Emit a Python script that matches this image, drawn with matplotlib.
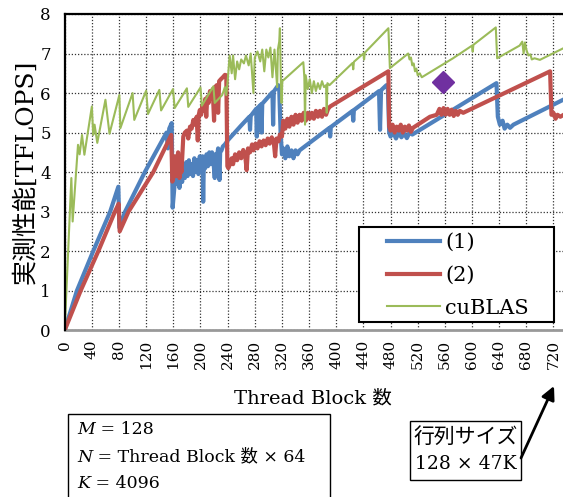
import numpy as np
import matplotlib
matplotlib.use("Agg")
from matplotlib import pyplot as plt
from matplotlib.patches import Rectangle

## DATA

# (1): thread block count vs TFLOPS
x1 = [0, 18, 42, 67, 79, 80.5, 89, 118, 150, 152, 154, 157.6,
      159, 161, 163, 165, 167, 169, 171, 173, 175, 177, 179, 181, 183, 185,
      187, 189, 191, 193, 195, 197, 199, 201, 203, 204, 205, 207, 209, 211,
      213, 215, 217, 219, 221, 222, 224, 226, 228, 229, 231, 233, 236, 240,
      260, 272, 273, 274, 282, 283, 284, 289, 290, 291, 306, 307, 308, 314.6,
      316, 318, 320, 322, 325, 328, 331, 334, 337, 340, 343, 346,
      390, 391, 392, 424, 425, 426, 463, 464.5, 466, 474, 476,
      478, 480, 484, 488, 492, 496, 500, 504, 508, 512,
      636, 638, 641, 645, 648, 652, 656, 661, 740]
y1 = [0, 1, 2, 3, 3.63, 2.6, 3.0, 4.0, 5.0, 4.6, 5.1, 5.24,
      3.1, 3.5, 3.95, 3.7, 4.05, 3.6, 4.0, 3.75, 4.15, 3.85, 4.25, 3.9, 4.3, 3.95,
      4.2, 3.9, 4.35, 4.0, 4.3, 3.95, 4.4, 4.05, 4.4, 3.25, 4.3, 4.1, 4.45, 4.15,
      4.5, 4.2, 4.5, 4.3, 3.85, 4.45, 4.35, 4.6, 3.8, 4.5, 4.55, 4.65, 4.7, 4.8,
      5.18, 5.4, 5.07, 5.42, 5.6, 4.9, 5.62, 5.71, 5.0, 5.73, 6.02, 5.2, 6.04, 6.2,
      6.1, 5.0, 4.45, 4.6, 4.35, 4.65, 4.4, 4.55, 4.35, 4.55, 4.45, 4.55,
      5.12, 4.9, 5.14, 5.55, 5.3, 5.57, 6.05, 5.07, 6.07, 6.2, 6.15,
      5.0, 4.9, 5.0, 4.85, 5.0, 4.88, 4.98, 4.86, 5.0, 4.95,
      6.25, 5.4, 5.2, 5.3, 5.1, 5.2, 5.12, 5.2, 5.88]

# (2)
x2 = [0, 23.5, 49.5, 74, 79.5, 81, 94, 130.5, 157, 158.5,
      160, 162, 164, 165, 167, 169, 170, 172, 174.7, 177, 180, 182, 184.6,
      187, 189.5, 191, 194.4, 196, 197.5, 199, 201, 203, 205, 207, 208.5,
      210, 212, 214, 216, 218, 220, 221.5, 224, 226, 227.5, 230, 233, 236,
      238, 239.6,
      241, 243.5, 246, 248, 251, 254, 257, 260, 263, 266, 268, 270, 273,
      276, 278, 281, 284, 287, 290, 293, 296, 299, 302, 305, 308, 310, 312,
      315, 317, 320,
      322, 325, 328, 331, 334, 337, 340, 343, 346, 349, 352, 355, 358, 361,
      364, 367, 370, 373, 376, 379, 382, 385, 388, 391, 476.7,
      478, 480, 483, 486, 489, 492, 495, 498, 501, 504, 507, 510, 513,
      538, 548, 552, 555, 558, 561, 564, 567, 570, 573, 576, 579, 582, 587,
      715, 717, 720, 723, 726, 730, 740]
y2 = [0, 1, 2, 3, 3.2, 2.5, 3.0, 4.0, 4.94, 3.76,
      3.85, 4.4, 3.9, 4.15, 4.5, 3.85, 4.3, 4.0, 4.9, 5.0, 5.05, 4.85, 5.15,
      5.1, 5.32, 5.2, 5.4, 4.8, 5.45, 5.57, 5.45, 5.7, 5.55, 5.85, 5.4,
      5.9, 5.75, 6.05, 5.85, 6.1, 5.3, 6.15, 6.2, 5.5, 6.3, 6.35, 6.4, 6.46,
      6.45, 4.15,
      4.1, 4.2, 4.35, 4.2, 4.45, 4.3, 4.5, 4.35, 4.56, 4.4, 4.05, 4.6, 4.5,
      4.7, 4.55, 4.72, 4.6, 4.78, 4.65, 4.8, 4.68, 4.85, 4.72, 4.88, 4.75, 4.4, 4.85,
      4.78, 4.95, 4.9,
      5.3, 5.1, 5.35, 5.15, 5.4, 5.2, 5.45, 5.25, 5.45, 5.3, 5.5, 5.3, 5.5, 5.35,
      5.5, 5.35, 5.55, 5.4, 5.55, 5.4, 5.6, 5.45, 5.6, 5.66, 6.55,
      5.15, 5.05, 5.2, 5.0, 5.15, 5.05, 5.2, 5.0, 5.15, 5.05, 5.18, 5.02, 5.12,
      5.4, 5.45, 5.6, 5.45, 5.62, 5.45, 5.6, 5.45, 5.58, 5.42, 5.55, 5.45, 5.55, 5.5,
      6.55, 5.45, 5.5, 5.35, 5.45, 5.4, 5.5]

# cuBLAS
x3 = [0, 9.8, 11.7, 19.6, 22, 25.5, 29, 40, 42, 44, 48, 60, 66, 80.5, 82,
      100, 102.5, 120, 122.7, 139.4, 142, 159.5, 162, 180, 182, 200, 202,
      219, 221, 232, 236, 238,
      240, 243, 246, 248, 251, 254, 257, 260, 264, 267, 271,
      274, 278, 280, 284, 288, 291, 294, 297, 300,
      303, 306, 309, 313, 314, 316, 317, 318.5, 319.5, 320.5,
      351.5, 353, 354, 355, 358, 361, 364, 367, 370, 373, 376, 379, 382, 385,
      386, 387, 390, 424, 425, 426, 440, 441, 442, 476.8,
      479, 506, 508, 510, 512, 514, 516, 518, 520, 523, 526, 528,
      572, 600, 601, 602, 635, 637, 670, 674, 676, 678, 680, 683, 686, 688,
      692, 700, 740]
y3 = [0, 3.85, 2.75, 4.69, 4.45, 4.94, 4.44, 5.66, 4.94, 5.2, 4.74, 5.83, 4.97, 5.95, 5.11,
      6.0, 5.32, 6.06, 5.47, 6.08, 5.56, 6.1, 5.62, 6.12, 5.65, 6.14, 5.68,
      6.17, 5.75, 5.95, 6.15, 5.95,
      6.3, 6.95, 6.5, 6.95, 6.35, 6.8, 6.6, 6.85, 6.75, 6.95, 6.7,
      7.0, 6.0, 6.9, 7.05, 6.8, 7.1, 6.55, 7.1, 6.9,
      7.15, 6.4, 7.1, 6.15, 7.1, 7.3, 7.64, 6.25, 5.75, 6.3,
      6.78, 6.4, 5.2, 6.45, 6.1, 6.35, 6.0, 6.3, 6.05, 6.25, 6.1, 6.3, 6.15, 6.2,
      5.5, 6.25, 6.2, 6.76, 6.6, 6.79, 7.0, 6.85, 7.02, 7.64,
      6.63, 7.0, 6.85, 6.9, 6.7, 6.75, 6.55, 6.62, 6.45, 6.5, 6.4, 6.42,
      6.88, 7.2, 7.05, 7.22, 7.66, 6.88, 7.2, 7.3, 7.0, 7.28, 7.1, 6.95, 6.98, 6.85,
      6.88, 6.84, 7.18]

# 行列サイズ 128 x 47K point
mark_x = [557]
mark_y = [6.27]

xticks = list(range(0, 721, 40))
yticks = list(range(0, 9))

serif = ['DejaVu Serif', 'Noto Sans CJK JP']
plt.rcParams['font.family'] = serif

W, H = 563, 497
fig = plt.figure(figsize=(W / 100, H / 100), dpi=100)


def fx(px):
    return px / W


def fy(py):
    return 1 - py / H


ax = fig.add_axes([fx(64.7), fy(330.2), fx(563 - 64.7), 316.2 / H])

ax.plot(x1, y1, color='#4F81BD', lw=3, label='(1)', zorder=3)
ax.plot(x2, y2, color='#C0504D', lw=3, label='(2)', zorder=3)
ax.plot(x3, y3, color='#9BBB59', lw=1.5, label='cuBLAS', zorder=3)
ax.plot(mark_x, mark_y, 'D', color='#7030A0', ms=11, zorder=4)

ax.set_xlim(0, 734)
ax.set_ylim(0, 8)
ax.set_xticks(xticks)
ax.set_xticklabels([str(t) for t in xticks], rotation=90)
ax.set_yticks(yticks)
ax.tick_params(axis='x', length=0, pad=7, labelsize=11)
ax.tick_params(axis='y', length=0, pad=10, labelsize=12)
ax.grid(True, color='#333333', linestyle=(0, (1, 1.5)), lw=0.9)

ax.spines['right'].set_visible(False)
ax.spines['left'].set_linewidth(1.6)
ax.spines['top'].set_linewidth(1.6)
ax.spines['bottom'].set_color('#999999')
ax.spines['bottom'].set_linewidth(2)
ax.spines['left'].set_zorder(5)

# legend with a separate frame
ax.add_patch(Rectangle((0.591, 0.027), 0.391, 0.30, transform=ax.transAxes,
                       facecolor='white', edgecolor='black', lw=1.5, zorder=5))
leg = ax.legend(loc='upper left', bbox_to_anchor=(0.646, 0.307), frameon=False,
                fontsize=15, handlelength=2.55, handletextpad=0.25,
                labelspacing=0.66, borderpad=0, borderaxespad=0)
leg.set_zorder(6)

ax.set_ylabel('実測性能[TFLOPS]', fontsize=18, labelpad=2)
fig.text(fx(313), fy(398), 'Thread Block 数', fontsize=14, ha='center', va='center')

# parameter box
fig.patches.append(Rectangle((fx(68), fy(520)), fx(330 - 68), (520 - 414) / H,
                             transform=fig.transFigure, facecolor='none',
                             edgecolor='black', lw=1, clip_on=False))
renderer = fig.canvas.get_renderer()
for py, var, rest in [(430, 'M', ' = 128'), (457, 'N', ' = Thread Block 数 × 64'),
                      (484, 'K', ' = 4096')]:
    t = fig.text(fx(77), fy(py), var, fontsize=12.5, style='italic', va='center')
    w = t.get_window_extent(renderer).width / W
    fig.text(fx(77) + w, fy(py), rest, fontsize=12.5, va='center')

# matrix size note
fig.patches.append(Rectangle((fx(410), fy(480)), fx(521 - 410), (480 - 421) / H,
                             transform=fig.transFigure, facecolor='none',
                             edgecolor='black', lw=1))
fig.text(fx(465.5), fy(437), '行列サイズ', fontsize=15, ha='center', va='center')
fig.text(fx(465.5), fy(464), '128 × 47K', fontsize=13.5, ha='center', va='center')
ax.annotate('', xy=(fx(554), fy(386)), xytext=(fx(521), fy(458)),
            xycoords='figure fraction', textcoords='figure fraction',
            arrowprops=dict(arrowstyle='-|>', color='black', lw=2,
                            mutation_scale=20, shrinkA=0, shrinkB=0),
            annotation_clip=False)

fig.savefig('out.png', dpi=100)
